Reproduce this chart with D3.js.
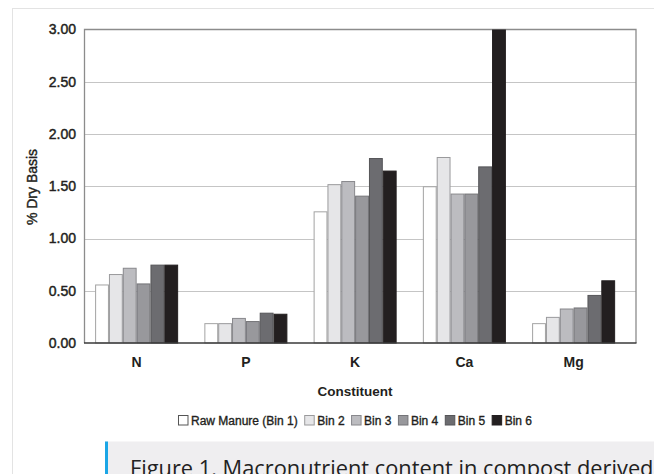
<!DOCTYPE html>
<html>
<head>
<meta charset="utf-8">
<script src="https://cdn.jsdelivr.net/npm/d3@7"></script>
<style>
  html, body { margin: 0; padding: 0; background: #fff; overflow: hidden; }
  svg { display: block; }
</style>
</head>
<body>
<svg id="chart" width="654" height="474"></svg>
<script>
// ---- Data ----
const categories = ["N", "P", "K", "Ca", "Mg"];
const seriesNames = ["Raw Manure (Bin 1)", "Bin 2", "Bin 3", "Bin 4", "Bin 5", "Bin 6"];
const rawManure = [0.56, 0.19, 1.26, 1.50, 0.19];
const bin2 = [0.66, 0.19, 1.52, 1.78, 0.25];
const bin3 = [0.72, 0.24, 1.55, 1.43, 0.33];
const bin4 = [0.57, 0.21, 1.41, 1.43, 0.34];
const bin5 = [0.75, 0.29, 1.77, 1.69, 0.46];
const bin6 = [0.75, 0.28, 1.65, 3.00, 0.60];
const yTicks = [0, 0.5, 1, 1.5, 2, 2.5, 3];
const yLabel = "% Dry Basis";
const xLabel = "Constituent";
const caption = "Figure 1. Macronutrient content in compost derived";

const seriesValues = [rawManure, bin2, bin3, bin4, bin5, bin6];
const fills = ["#ffffff", "#e6e6e8", "#bcbcc0", "#98989c", "#6c6c70", "#231f20"];
const strokes = ["#a3a3a3", "#9a9a9c", "#88888c", "#747478", "#555558", "#231f20"];

const svg = d3.select("#chart");
const font = "'Liberation Sans', Arial, Helvetica, sans-serif";
const ink = "#231f20";

// card border
svg.append("rect").attr("x", 12.5).attr("y", 8.5).attr("width", 720).attr("height", 520)
  .attr("fill", "none").attr("stroke", "#e3e3e3").attr("stroke-width", 1);

const plot = { left: 84.5, right: 636, top: 29.5, bottom: 343 };

const y = d3.scaleLinear().domain([0, 3]).range([plot.bottom, plot.top]);
const x0 = d3.scaleBand().domain(categories).range([82, 628.25]).paddingInner(0.24).paddingOuter(0.12);
const x1 = d3.scaleBand().domain(d3.range(seriesNames.length)).range([0, x0.bandwidth()]);

// gridlines (dotted)
svg.append("g").selectAll("line").data(yTicks.filter(t => t > 0 && t < 3)).join("line")
  .attr("x1", plot.left).attr("x2", plot.right)
  .attr("y1", d => Math.round(y(d)) + 0.5).attr("y2", d => Math.round(y(d)) + 0.5)
  .attr("stroke", "#8a8a8a").attr("stroke-width", 1).attr("stroke-dasharray", "1,1");

// frame
svg.append("path")
  .attr("d", `M${plot.left},${plot.bottom} V${plot.top} H${plot.right} V${plot.bottom}`)
  .attr("fill", "none").attr("stroke", "#8c8c8c").attr("stroke-width", 1.3);

// bars
const groups = svg.append("g").selectAll("g").data(categories).join("g")
  .attr("transform", d => `translate(${x0(d)},0)`);
groups.selectAll("rect").data((c, ci) => seriesValues.map((vals, si) => ({ si, v: vals[ci] })))
  .join("rect")
  .attr("x", d => x1(d.si) + 0.5)
  .attr("width", x1.bandwidth() - 1)
  .attr("y", d => y(d.v) + 0.5)
  .attr("height", d => y(0) - y(d.v) - 0.5)
  .attr("fill", d => fills[d.si])
  .attr("stroke", d => strokes[d.si])
  .attr("stroke-width", 1);

// bottom axis line
svg.append("line").attr("x1", plot.left - 0.5).attr("x2", plot.right + 0.5)
  .attr("y1", plot.bottom).attr("y2", plot.bottom)
  .attr("stroke", "#3a3a3a").attr("stroke-width", 1.5);

function heavy(sel, w) {
  sel.attr("stroke", ink).attr("stroke-width", w).attr("paint-order", "stroke");
}

// y axis labels
const yAxis = d3.axisLeft(y).tickValues(yTicks).tickFormat(d3.format(".2f")).tickSize(0).tickPadding(0);
const yg = svg.append("g").attr("transform", `translate(76,0)`).call(yAxis);
yg.select(".domain").remove();
yg.selectAll("text").attr("font-family", font).attr("font-size", 14).attr("fill", ink).call(heavy, 0.45);

// x axis labels
const xAxis = d3.axisBottom(x0).tickSize(0).tickPadding(0);
const xg = svg.append("g").attr("transform", `translate(0,356)`).call(xAxis);
xg.select(".domain").remove();
xg.selectAll("text").attr("font-family", font).attr("font-size", 14).attr("fill", ink)
  .attr("font-weight", "bold").attr("dy", "0.8em");

// axis titles
svg.append("text").attr("transform", "translate(37,187) rotate(-90)")
  .attr("text-anchor", "middle").attr("font-family", font).attr("font-size", 14)
  .attr("fill", ink).call(heavy, 0.4).text(yLabel);
svg.append("text").attr("x", 355).attr("y", 395.5).attr("text-anchor", "middle")
  .attr("font-family", font).attr("font-size", 13.5).attr("font-weight", "bold")
  .attr("fill", ink).text(xLabel);

// legend
const legend = svg.append("g");
let lx = 0;
seriesNames.forEach((name, i) => {
  const g = legend.append("g").attr("transform", `translate(${lx},0)`);
  g.append("rect").attr("x", 0.5).attr("y", 415.5).attr("width", 9.5).attr("height", 9.5)
    .attr("fill", fills[i]).attr("stroke", i === 0 ? "#555" : strokes[i]).attr("stroke-width", 1);
  const t = g.append("text").attr("x", 13).attr("y", 424.5)
    .attr("font-family", font).attr("font-size", 12).attr("fill", ink).call(heavy, 0.35).text(name);
  lx += 13 + t.node().getComputedTextLength() + 6.5;
});
const legendWidth = lx - 6.5;
legend.attr("transform", `translate(${355 - legendWidth / 2},0)`);

// caption box
svg.append("rect").attr("x", 105).attr("y", 441.5).attr("width", 560).attr("height", 40).attr("fill", "#efeef0");
svg.append("rect").attr("x", 105).attr("y", 441.5).attr("width", 3).attr("height", 40).attr("fill", "#1ba6e6");
svg.append("text").attr("x", 130).attr("y", 476).attr("font-family", "'Open Sans', 'Noto Sans', sans-serif")
  .attr("font-size", 21.8).attr("fill", "#222").text(caption);
</script>
</body>
</html>
